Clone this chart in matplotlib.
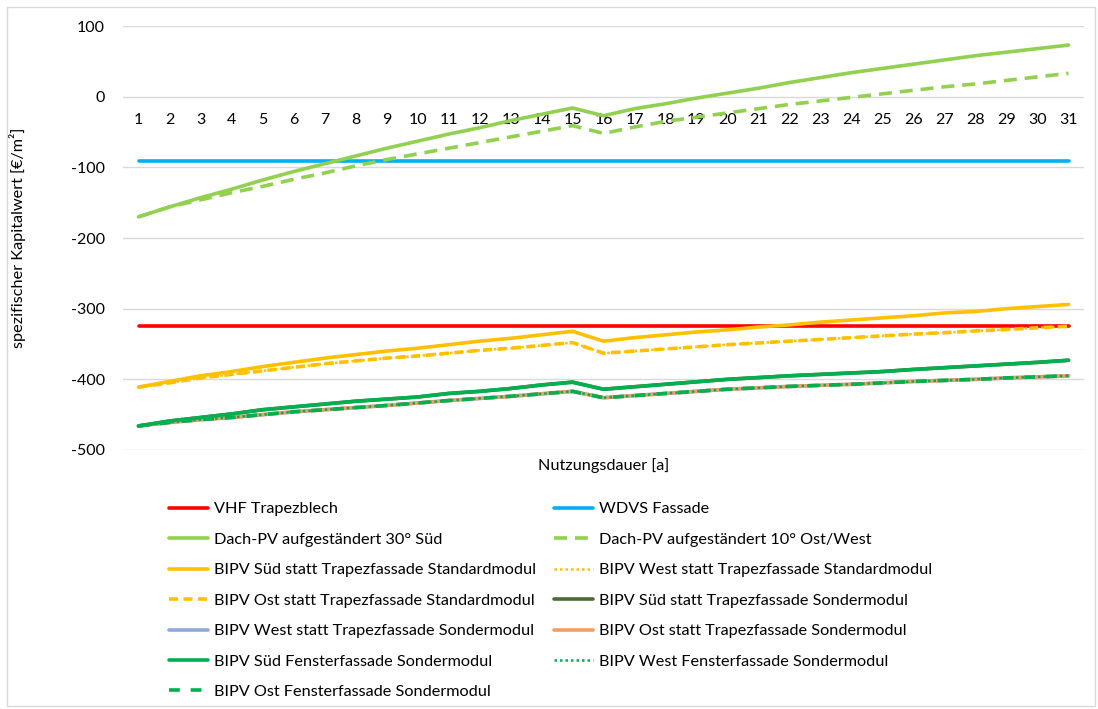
import matplotlib
matplotlib.use("Agg")
import matplotlib.pyplot as plt
from matplotlib.patches import Rectangle

plt.rcParams['font.family'] = ['Lato', 'DejaVu Sans']
plt.rcParams['axes.unicode_minus'] = False

years = list(range(1, 32))

vhf_trapezblech = [-325] * 31
wdvs_fassade = [-91] * 31

dach_30_sued = [-170, -156, -143, -131, -118, -106, -95, -84, -73, -63, -53, -44, -34, -25, -16,
                -27, -17, -10, -2, 5, 12, 20, 27, 34, 40, 46, 52, 58, 63, 68, 73]
dach_10_ost_west = [-170, -156, -146, -136, -127, -117, -108, -98, -89, -81, -73, -65, -57, -49, -41,
                    -52, -43, -35, -29, -23, -17, -11, -6, -1, 4, 9, 14, 18, 23, 28, 33]

bipv_sued_std = [-411, -403, -395, -389, -382, -376, -370, -365, -360, -356, -351, -346, -342, -337, -332,
                 -346, -341, -337, -333, -330, -326, -323, -319, -316, -313, -310, -306, -304, -300, -297, -294]
bipv_ost_std = [-411, -405, -398, -393, -388, -383, -378, -374, -370, -367, -363, -359, -356, -352, -348,
                -363, -360, -357, -354, -351, -348.5, -346, -343.5, -341, -338.5, -336, -334, -331.5, -329.5, -327, -325]
bipv_west_std = list(bipv_ost_std)

bipv_sued_sonder = [-466, -459, -454, -449, -443, -439, -435, -431, -428, -425, -420, -417, -413, -408, -404,
                    -414, -410.5, -407, -403.5, -400, -397.5, -395, -393, -391, -389, -386, -383.5, -381, -378.5, -376, -373]
bipv_ost_sonder = [-466, -461, -457, -454, -450, -446, -443, -440, -437, -433.5, -430, -427, -424, -420.5, -417,
                   -426, -423, -420, -417, -414, -412, -410, -408.5, -407, -405, -403, -401.5, -400, -398, -396.5, -395]
bipv_west_sonder = list(bipv_ost_sonder)

bipv_sued_fenster = list(bipv_sued_sonder)
bipv_west_fenster = list(bipv_ost_sonder)
bipv_ost_fenster = list(bipv_ost_sonder)

labels = [
    "VHF Trapezblech", "WDVS Fassade",
    "Dach-PV aufgeständert 30° Süd", "Dach-PV aufgeständert 10° Ost/West",
    "BIPV Süd statt Trapezfassade Standardmodul", "BIPV West statt Trapezfassade Standardmodul",
    "BIPV Ost statt Trapezfassade Standardmodul", "BIPV Süd statt Trapezfassade Sondermodul",
    "BIPV West statt Trapezfassade Sondermodul", "BIPV Ost statt Trapezfassade Sondermodul",
    "BIPV Süd Fensterfassade Sondermodul", "BIPV West Fensterfassade Sondermodul",
    "BIPV Ost Fensterfassade Sondermodul",
]
series = [vhf_trapezblech, wdvs_fassade, dach_30_sued, dach_10_ost_west,
          bipv_sued_std, bipv_west_std, bipv_ost_std, bipv_sued_sonder,
          bipv_west_sonder, bipv_ost_sonder, bipv_sued_fenster, bipv_west_fenster,
          bipv_ost_fenster]

lw = 2.6
styles = [
    dict(color="#FF0000", lw=lw, ls="-"),
    dict(color="#00B0F0", lw=lw, ls="-"),
    dict(color="#92D050", lw=lw, ls="-"),
    dict(color="#92D050", lw=lw, ls=(0, (3.6, 2.2))),
    dict(color="#FFC000", lw=lw, ls="-"),
    dict(color="#FFC000", lw=1.8, ls=(0, (1, 1.2))),
    dict(color="#FFC000", lw=lw, ls=(0, (2.5, 1.5))),
    dict(color="#476D2F", lw=lw, ls="-"),
    dict(color="#8EA9DB", lw=lw, ls="-"),
    dict(color="#F19D63", lw=lw, ls="-"),
    dict(color="#00B050", lw=lw, ls="-"),
    dict(color="#00B050", lw=1.8, ls=(0, (1, 1.2))),
    dict(color="#00B050", lw=lw, ls=(0, (3, 3))),
]

W, H = 1098, 709
fig = plt.figure(figsize=(W / 100, H / 100), dpi=100)
left, right, top, bottom = 123, 1084, 26, 450
ax = fig.add_axes([left / W, 1 - bottom / H, (right - left) / W, (bottom - top) / H])

handles = []
for vals, st, lab in zip(series, styles, labels):
    h, = ax.plot(years, vals, color=st["color"], lw=st["lw"], ls=st["ls"],
                 solid_capstyle="round", dash_capstyle="butt", label=lab)
    handles.append(h)

ax.set_xlim(0.5, 31.5)
ax.set_ylim(-500, 100)
ax.set_yticks(range(-500, 101, 100))
ax.set_xticks(years)
ax.set_xticklabels([str(y) for y in years])
ax.grid(axis="y", color="#D9D9D9", lw=1)
ax.set_axisbelow(True)
for s in ["left", "right", "top"]:
    ax.spines[s].set_visible(False)
ax.spines["bottom"].set_position(("data", 0))
ax.spines["bottom"].set_visible(False)
ax.tick_params(axis="both", length=0, labelsize=11.5, colors="#000000")
ax.tick_params(axis="x", pad=12)
ax.tick_params(axis="y", pad=13)

ax.set_xlabel("Nutzungsdauer [a]", fontsize=11.7)
ax.xaxis.set_label_coords(0.5, -0.019)
ax.set_ylabel("spezifischer Kapitalwert [€/m²]", fontsize=11.7)
ax.yaxis.set_label_coords(-0.101, 0.5)

left_items = list(range(0, 13, 2))
right_items = list(range(1, 13, 2))
common = dict(frameon=False, fontsize=11.7, handlelength=2.4, handletextpad=0.35,
              labelspacing=0.99, borderaxespad=0, borderpad=0)
leg1 = fig.legend([handles[i] for i in left_items], [labels[i] for i in left_items],
                  loc="upper left", bbox_to_anchor=(169 / W, 1 - 502 / H), **common)
leg2 = fig.legend([handles[i] for i in right_items], [labels[i] for i in right_items],
                  loc="upper left", bbox_to_anchor=(554 / W, 1 - 502 / H), **common)

fig.patches.append(Rectangle((7 / W, 3 / H), (1095 - 7) / W, (706 - 7) / H,
                             transform=fig.transFigure, fill=False,
                             edgecolor="#D9D9D9", lw=1))

fig.savefig("out.png", dpi=100)
